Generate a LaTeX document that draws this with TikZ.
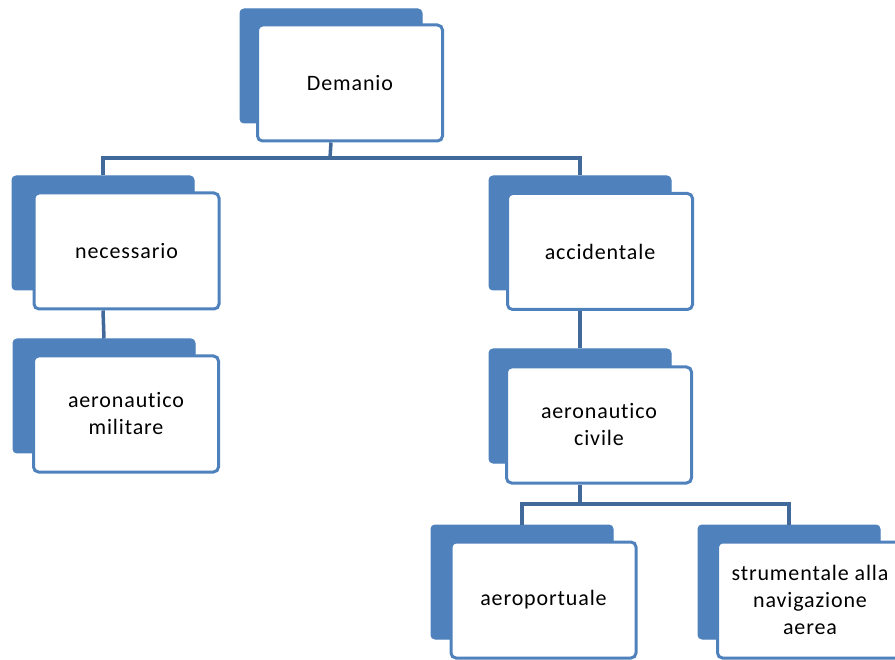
\documentclass[tikz,border=0pt]{standalone}
\usepackage{fontspec}
\setmainfont{Carlito}[LetterSpace=4,Ligatures={NoCommon}]
\definecolor{boxblue}{HTML}{4F81BD}
\definecolor{linkblue}{HTML}{41699A}
\tikzset{
  backbox/.style={fill=boxblue, draw=boxblue, line width=1pt, rounded corners=4pt,
    minimum width=182pt, minimum height=114pt, inner sep=0pt},
  frontbox/.style={fill=white, draw=boxblue, line width=3pt, rounded corners=5pt,
    minimum width=185pt, minimum height=116pt, inner sep=0pt, align=center,
    font=\fontsize{22}{27}\selectfont},
  link/.style={draw=linkblue, line width=3.5pt}
}
\begin{document}
\begin{tikzpicture}[x=1pt,y=-1pt]
\useasboundingbox (0,0) rectangle (895,660);
% Demanio
\node[backbox] (demb) at (331,66) {};
\node[frontbox] (dem) at (350,83) {Demanio};
% necessario
\node[backbox] (necb) at (103,233) {};
\node[frontbox] (nec) at (126.5,251) {necessario};
% aeronautico militare
\node[backbox] (milb) at (104,396) {};
\node[frontbox] (mil) at (126,414) {aeronautico\\militare};
% accidentale
\node[backbox] (accb) at (580,233) {};
\node[frontbox] (acc) at (600,251.5) {accidentale};
% aeronautico civile
\node[backbox] (civb) at (580,406) {};
\node[frontbox] (civ) at (599,425) {aeronautico\\civile};
% aeroportuale
\node[backbox] (aptb) at (522,582) {};
\node[frontbox] (apt) at (543.5,600) {aeroportuale};
% strumentale
\node[backbox] (strb) at (789,582) {};
\node[frontbox] (str) at (810,600) {strumentale alla\\navigazione\\aerea};
% connectors
\coordinate (j1) at (330,158);
\coordinate (j2) at (580,504);
\draw[link] (dem.south -| demb.center) -- (j1);
\draw[link] (necb.north) |- (j1) -| (accb.north);
\draw[link] (nec.south -| necb.center) -- (milb.north);
\draw[link] (acc.south -| accb.center) -- (civb.north);
\draw[link] (civ.south -| civb.center) -- (j2);
\draw[link] (aptb.north) |- (j2) -| (strb.north);
\end{tikzpicture}
\end{document}
